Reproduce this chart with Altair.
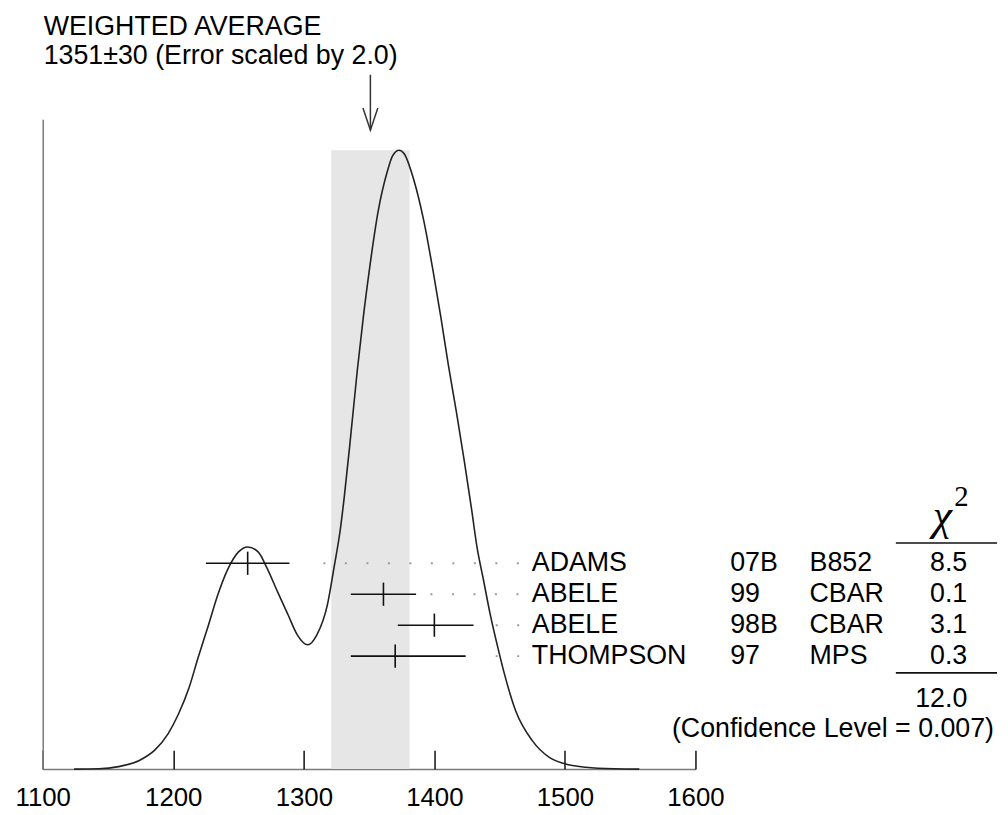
import altair as alt
import pandas as pd

# ---------------- data ----------------
names = ["ADAMS", "ABELE", "ABELE", "THOMPSON"]
refs = ["07B", "99", "98B", "97"]
experiments = ["B852", "CBAR", "CBAR", "MPS"]
values = [1257, 1361, 1400, 1370]
err_lo = [1225, 1336, 1372, 1336]
err_hi = [1289, 1386, 1430, 1424]
chi2 = ["8.5", "0.1", "3.1", "0.3"]
leader_start = [1315, 1397, 1447, 1447]
chi2_total = "12.0"
conf_text = "(Confidence Level = 0.007)"

avg = 1351
avg_err = 30
scale_factor = "2.0"

x_ticks = [1100, 1200, 1300, 1400, 1500, 1600]

curve_x = [1124, 1143, 1158, 1174, 1186, 1196, 1204, 1212, 1219, 1227, 1234,
           1242, 1250, 1257, 1265, 1272, 1280, 1288, 1295, 1303, 1310, 1318,
           1323, 1328, 1331, 1336, 1341, 1346, 1351, 1357, 1364, 1368, 1373,
           1377, 1384, 1392, 1399, 1405, 1410.8, 1416.9, 1423, 1428.3, 1432.8,
           1437.4, 1442.7, 1448, 1453.4, 1462.5, 1475, 1488, 1500, 1516,
           1538, 1557]
curve_y = [0.000, 0.0005, 0.004, 0.014, 0.031, 0.057, 0.089, 0.131, 0.180,
           0.233, 0.281, 0.324, 0.351, 0.359, 0.351, 0.324, 0.286, 0.249,
           0.217, 0.201, 0.217, 0.265, 0.324, 0.388, 0.440, 0.540, 0.645,
           0.738, 0.819, 0.902, 0.966, 0.991, 1.000, 0.994, 0.954, 0.885,
           0.805, 0.730, 0.652, 0.577, 0.497, 0.423, 0.357, 0.308, 0.251,
           0.202, 0.156, 0.093, 0.046, 0.019, 0.0085, 0.003, 0.0005, 0.000]

# ---------------- layout helpers ----------------
W, H = 658, 655
X0, X1 = 1100, 1600
YTOP = 1.05
LEFT, TOP = 43, 117          # page position of the plot origin


def dx(px):
    return X0 + (px - LEFT) * (X1 - X0) / W


def dy(py):
    return (TOP + H - py) * YTOP / H


FONT = "Liberation Sans"
SERIF = "Liberation Serif"
INK = "#111111"
AXIS_GREY = "#7a7a7a"

xs = alt.Scale(domain=[X0, X1], nice=False, zero=False)
ys = alt.Scale(domain=[0, YTOP], nice=False, zero=False)

curve_df = pd.DataFrame({"x": curve_x, "y": curve_y})
band_df = pd.DataFrame({"x1": [avg - avg_err], "x2": [avg + avg_err],
                        "y1": [0.0], "y2": [max(curve_y)]})

row_y = [dy(564.5 + 31.2 * i) for i in range(len(names))]
half = 11.7 * YTOP / H
rows = pd.DataFrame({
    "name": names, "ref": refs, "exp": experiments, "val": values,
    "lo": err_lo, "hi": err_hi, "chi2": chi2, "ls": leader_start,
    "le": [dx(524)] * len(names),
    "ry": row_y,
    "ty1": [r - half for r in row_y], "ty2": [r + half for r in row_y],
})

one = pd.DataFrame({"k": [0]})

# ---------------- layers ----------------
band = alt.Chart(band_df).mark_rect(color="#e6e6e6").encode(
    x=alt.X("x1:Q", scale=xs, axis=alt.Axis(
        orient="bottom", values=x_ticks, format="d", tickSize=0,
        labelPadding=16, labelFontSize=26, labelFont=FONT, labelColor="black",
        labelFlush=False, domainColor=AXIS_GREY, domainWidth=1.5,
        grid=False, title=None)),
    x2="x2",
    y=alt.Y("y1:Q", scale=ys, axis=None),
    y2="y2",
)

leaders = alt.Chart(rows).mark_rule(
    color="#9a9a9a", strokeWidth=2, strokeDash=[2, 19.67]
).encode(
    x=alt.X("ls:Q", scale=xs, axis=None), x2="le",
    y=alt.Y("ry:Q", scale=ys, axis=None),
)

curve = alt.Chart(curve_df).mark_line(
    color="#222222", strokeWidth=1.6, interpolate="monotone"
).encode(
    x=alt.X("x:Q", scale=xs, axis=alt.Axis(
        orient="top", offset=-H, values=x_ticks, tickSize=19, tickWidth=1.5,
        tickColor=INK, labels=False, domain=False, grid=False, title=None)),
    y=alt.Y("y:Q", scale=ys, axis=alt.Axis(
        orient="left", ticks=False, labels=False, grid=False, title=None,
        domain=True, domainColor=AXIS_GREY, domainWidth=1.5)),
)

bars = alt.Chart(rows).mark_rule(color=INK, strokeWidth=1.6).encode(
    x=alt.X("lo:Q", scale=xs, axis=None), x2="hi",
    y=alt.Y("ry:Q", scale=ys, axis=None),
)
centers = alt.Chart(rows).mark_rule(color=INK, strokeWidth=1.6).encode(
    x=alt.X("val:Q", scale=xs, axis=None),
    y=alt.Y("ty1:Q", scale=ys, axis=None), y2="ty2",
)


def col_text(field, px, align):
    return alt.Chart(rows).mark_text(
        align=align, baseline="middle", font=FONT, fontSize=27, color="black"
    ).encode(
        x=alt.XDatum(dx(px), type="quantitative", scale=xs, axis=None),
        y=alt.Y("ry:Q", scale=ys, axis=None),
        text=f"{field}:N",
    )


t_names = col_text("name", 536, "left")
t_refs = col_text("ref", 736, "left")
t_exps = col_text("exp", 816, "left")
t_chi = col_text("chi2", 975, "right")


def note(text, px, py, align="left", baseline="alphabetic", font=FONT,
         size=27, style="normal"):
    return alt.Chart(one).mark_text(
        text=text, align=align, baseline=baseline, font=font, fontSize=size,
        fontStyle=style, color="black"
    ).encode(
        x=alt.XDatum(dx(px), type="quantitative", scale=xs, axis=None),
        y=alt.YDatum(dy(py), type="quantitative", scale=ys, axis=None),
    )


title1 = note("WEIGHTED AVERAGE", 44, 31.7, size=27)
title2 = note(f"{avg}\u00b1{avg_err} (Error scaled by {scale_factor})", 44, 61, size=27)
chi_sym = note("\u03c7", 950, 531, align="center", font=SERIF, size=44, style="italic")
chi_sup = note("2", 962, 507, font=SERIF, size=29)
total = note(chi2_total, 975, 701, align="right", baseline="middle")
conf = note(conf_text, 1002, 732, align="right", baseline="middle")


def hline(px1, px2, py):
    return alt.Chart(one).mark_rule(color=INK, strokeWidth=1.6).encode(
        x=alt.XDatum(dx(px1), type="quantitative", scale=xs, axis=None),
        x2=alt.X2Datum(dx(px2)),
        y=alt.YDatum(dy(py), type="quantitative", scale=ys, axis=None),
    )


line_top = hline(903, 1005, 544)
line_bot = hline(903, 1005, 675)

arrow_shaft = alt.Chart(one).mark_rule(color="#333333", strokeWidth=1.5).encode(
    x=alt.XDatum(avg, type="quantitative", scale=xs, axis=None),
    y=alt.YDatum(dy(72), type="quantitative", scale=ys, axis=None),
    y2=alt.Y2Datum(dy(128)),
)
arrow_head = alt.Chart(one).mark_point(
    shape="M-1,-3L0,0L1,-3", size=225, filled=False, color="#333333",
    strokeWidth=1.5, opacity=1
).encode(
    x=alt.XDatum(avg, type="quantitative", scale=xs, axis=None),
    y=alt.YDatum(dy(128), type="quantitative", scale=ys, axis=None),
)

chart = alt.layer(
    band, leaders, curve, bars, centers,
    t_names, t_refs, t_exps, t_chi,
    title1, title2, chi_sym, chi_sup, total, conf,
    line_top, line_bot, arrow_shaft, arrow_head,
).resolve_axis(x="independent", y="independent").properties(
    width=W, height=H,
    autosize=alt.AutoSizeParams(type="none"),
    padding={"left": LEFT - 8, "top": TOP - 8, "right": 1008 - 8 - LEFT - W + 8,
             "bottom": 815 - TOP - H},
).configure_view(stroke=None)

chart.save("out.html", embed_options={"renderer": "svg", "actions": False})
